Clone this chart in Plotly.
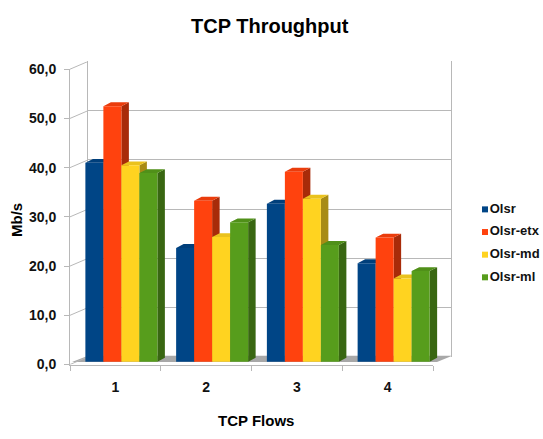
import plotly.graph_objects as go

# ---------------- data ----------------
flows = ["1", "2", "3", "4"]
series_names = ["Olsr", "Olsr-etx", "Olsr-md", "Olsr-ml"]
olsr = [40.4, 23.1, 32.1, 20.0]
olsr_etx = [51.9, 32.7, 38.6, 25.2]
olsr_md = [39.9, 25.3, 33.1, 16.9]
olsr_ml = [38.3, 28.3, 23.7, 18.4]
y_ticks = [0, 10, 20, 30, 40, 50, 60]
y_tick_text = ["0,0", "10,0", "20,0", "30,0", "40,0", "50,0", "60,0"]
series_values = [olsr, olsr_etx, olsr_md, olsr_ml]

front_colors = ["#004586", "#ff420e", "#ffd320", "#579d1c"]


def shade(hex_color, f):
    h = hex_color.lstrip("#")
    r, g, b = (int(h[i:i + 2], 16) for i in (0, 2, 4))
    return "rgb(%d,%d,%d)" % (int(r * f), int(g * f), int(b * f))


side_colors = [shade(c, 0.66) for c in front_colors]
top_colors = [shade(c, 0.92) for c in front_colors]

# ---------------- geometry (pixels) ----------------
W, H = 543, 439
FX0, FX1 = 70, 433          # front x-axis extent
FY0, FY1 = 370, 63.5        # front y-axis: value 0 and value 60
Y_MAX = 60
PXU = (FY0 - FY1) / Y_MAX   # pixels per unit
NCAT = len(flows)
CAT = (FX1 - FX0) / NCAT    # pixels per category
WALL_DX, WALL_DY = 18, 8    # depth offset of back wall
BAR_DX, BAR_DY = 6, 3       # offset of bar front plane
DEPTH_DX, DEPTH_DY = 7.5, 4  # depth of bars
BAR_W_PX = 18

FONT = "Liberation Sans, Arial, sans-serif"


def fx(p):
    return p / W


def fy(p):
    return 1 - p / H


# bar-plane coordinates
def bx(p):
    return (p - FX0 - BAR_DX) / CAT - 0.5


def by(p):
    return (FY0 - BAR_DY - p) / PXU


bar_xrange = [bx(FX0), bx(FX1 + WALL_DX)]
bar_yrange = [by(FY0), by(FY1 - WALL_DY)]
x_pos = list(range(NCAT))
BW = BAR_W_PX / CAT
GROUP = BW * len(series_names)
DDX = DEPTH_DX / CAT
DDY = DEPTH_DY / PXU

fig = go.Figure()

# anchors so that the front axes and the back wall subplots are drawn
fig.add_trace(go.Scatter(x=flows, y=[0] * NCAT, mode="markers", marker=dict(opacity=0),
                         xaxis="x", yaxis="y", showlegend=False, hoverinfo="skip"))
fig.add_trace(go.Scatter(x=[0.5], y=[0], mode="markers", marker=dict(opacity=0),
                         xaxis="x2", yaxis="y2", showlegend=False, hoverinfo="skip"))

# floor
floor_x = [bx(FX0 + 2), bx(FX1 + 4), bx(FX1 + WALL_DX + 1), bx(FX0 + WALL_DX), bx(FX0 + 2)]
floor_y = [by(FY0 - 2.5), by(FY0 - 2.5), by(FY0 - WALL_DY - 1), by(FY0 - WALL_DY - 1), by(FY0 - 2.5)]
fig.add_trace(go.Scatter(x=floor_x, y=floor_y, fill="toself", mode="lines",
                         line=dict(width=0), fillcolor="#a8a8a8",
                         xaxis="x3", yaxis="y3", showlegend=False, hoverinfo="skip"))

# connectors from front ticks to back wall grid
cx, cy = [], []
for v in y_ticks:
    cx += [bx(FX0), bx(FX0 + WALL_DX), None]
    cy += [by(FY0 - v * PXU), by(FY0 - WALL_DY - v * PXU), None]
fig.add_trace(go.Scatter(x=cx, y=cy, mode="lines", line=dict(color="#b8b8b8", width=1),
                         xaxis="x3", yaxis="y3", showlegend=False, hoverinfo="skip"))

# side and top faces of bars
for j, vals in enumerate(series_values):
    off = -GROUP / 2 + j * BW
    sx, sy, tx, ty = [], [], [], []
    for i, v in zip(x_pos, vals):
        xl = i + off
        xr = xl + BW
        sx += [xr, xr + DDX, xr + DDX, xr, xr, None]
        sy += [0, DDY, v + DDY, v, 0, None]
        tx += [xl, xl + DDX, xr + DDX, xr, xl, None]
        ty += [v, v + DDY, v + DDY, v, v, None]
    fig.add_trace(go.Scatter(x=sx, y=sy, fill="toself", mode="lines", line=dict(width=0),
                             fillcolor=side_colors[j], xaxis="x3", yaxis="y3",
                             showlegend=False, hoverinfo="skip"))
    fig.add_trace(go.Scatter(x=tx, y=ty, fill="toself", mode="lines", line=dict(width=0),
                             fillcolor=top_colors[j], xaxis="x3", yaxis="y3",
                             showlegend=False, hoverinfo="skip"))

# front faces of bars
for j, (name, vals) in enumerate(zip(series_names, series_values)):
    fig.add_trace(go.Bar(x=x_pos, y=vals, name=name, width=BW, offset=-GROUP / 2 + j * BW,
                         marker=dict(color=front_colors[j], line=dict(width=0)),
                         hovertext=flows, xaxis="x4", yaxis="y4", showlegend=False))

# legend (custom, on a pixel axis)
leg_y = [209, 232.5, 256, 279.5]
for j, name in enumerate(series_names):
    fig.add_trace(go.Scatter(x=[485], y=[leg_y[j]], mode="markers+text", text=[name],
                             textposition="middle right",
                             marker=dict(symbol="square", size=6, color=front_colors[j]),
                             textfont=dict(family=FONT, size=13, color="#111", weight="bold"),
                             xaxis="x5", yaxis="y5", showlegend=False, hoverinfo="skip"))

grid_col = "#b8b8b8"
hidden = dict(showgrid=False, zeroline=False, showticklabels=False, ticks="", showline=False)

fig.update_layout(
    width=W, height=H,
    margin=dict(l=0, r=0, t=0, b=0),
    paper_bgcolor="white",
    plot_bgcolor="rgba(0,0,0,0)",
    separators=", ",
    showlegend=False,
    barmode="overlay",
    xaxis=dict(domain=[fx(FX0), fx(FX1)], type="category", categoryorder="array",
               categoryarray=flows, range=[-0.5, NCAT - 0.5], tickson="boundaries",
               ticks="outside", ticklen=5, tickcolor=grid_col, showline=True,
               linecolor=grid_col, showgrid=False, zeroline=False,
               tickfont=dict(family=FONT, size=14, color="#111", weight="bold"),
               ticklabelstandoff=10, anchor="y", fixedrange=True),
    yaxis=dict(domain=[fy(FY0), fy(FY1)], range=[0, Y_MAX], tickvals=y_ticks,
               ticktext=y_tick_text, ticks="outside", ticklen=5, tickcolor=grid_col,
               showline=True, linecolor=grid_col, showgrid=False, zeroline=False,
               tickfont=dict(family=FONT, size=14, color="#111", weight="bold"),
               ticklabelstandoff=5, anchor="x", fixedrange=True),
    xaxis2=dict(domain=[fx(FX0 + WALL_DX), fx(FX1 + WALL_DX)], range=[0, 1],
                anchor="y2", **hidden),
    yaxis2=dict(domain=[fy(FY0 - WALL_DY), fy(FY1 - WALL_DY)], range=[0, Y_MAX],
                tickvals=y_ticks, showgrid=True, gridcolor=grid_col, gridwidth=1,
                showline=True, mirror=True, linecolor=grid_col, zeroline=False,
                showticklabels=False, ticks="", anchor="x2"),
    xaxis3=dict(domain=[fx(FX0), fx(FX1 + WALL_DX)], range=bar_xrange, anchor="y3", **hidden),
    yaxis3=dict(domain=[fy(FY0), fy(FY1 - WALL_DY)], range=bar_yrange, anchor="x3", **hidden),
    xaxis4=dict(overlaying="x3", range=bar_xrange, anchor="y4", **hidden),
    yaxis4=dict(overlaying="y3", range=bar_yrange, anchor="x4", **hidden),
    xaxis5=dict(domain=[0, 1], range=[0, W], anchor="y5", **hidden),
    yaxis5=dict(domain=[0, 1], range=[H, 0], anchor="x5", **hidden),
    annotations=[
        dict(text="TCP Throughput", x=fx(270), y=fy(19), xref="paper", yref="paper",
             showarrow=False, xanchor="center", yanchor="middle",
             font=dict(family=FONT, size=20, color="#000", weight="bold")),
        dict(text="Mb/s", x=fx(17), y=fy(220), xref="paper", yref="paper",
             showarrow=False, textangle=-90, xanchor="center", yanchor="middle",
             font=dict(family=FONT, size=15, color="#000", weight="bold")),
        dict(text="TCP Flows", x=fx(256), y=fy(428), xref="paper", yref="paper",
             showarrow=False, xanchor="center", yanchor="middle",
             font=dict(family=FONT, size=15, color="#000", weight="bold")),
    ],
)

fig.write_html("out.html")
